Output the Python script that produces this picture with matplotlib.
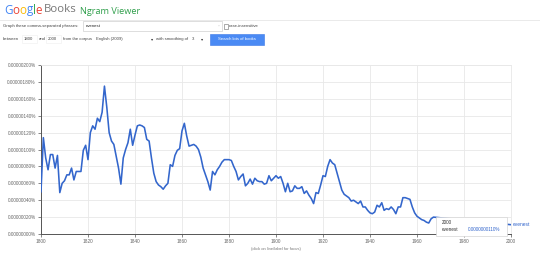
import matplotlib
matplotlib.use("Agg")
import matplotlib.pyplot as plt
from matplotlib.patches import Rectangle
from matplotlib.ticker import FuncFormatter

# ---------------- data ----------------
phrase = "evenest"
years = list(range(1800, 1968)) + [2000]
values = [  # share in units of 1e-8 %
    50, 114, 90, 76, 94, 94, 78, 93, 49, 60,            # 1800-1809
    63, 70, 70, 78, 64, 74, 74, 74, 99, 105,            # 1810-1819
    88, 120, 128, 124, 137, 133, 144, 175, 150, 120,    # 1820-1829
    110, 106, 92, 78, 59, 90, 100, 108, 124, 105,       # 1830-1839
    117, 128, 129, 128, 126, 112, 110, 90, 72, 62,      # 1840-1849
    58, 56, 53, 57, 60, 82, 80, 93, 99, 101,            # 1850-1859
    122, 131, 116, 104, 105, 106, 104, 100, 91, 78,     # 1860-1869
    70, 62, 52, 74, 70, 76, 80, 85, 88, 88,             # 1870-1879
    88, 87, 80, 74, 64, 68, 71, 57, 60, 65,             # 1880-1889
    59, 66, 63, 62, 62, 59, 60, 69, 63, 66,             # 1890-1899
    69, 66, 68, 60, 50, 60, 50, 51, 57, 54,             # 1900-1909
    54, 56, 48, 51, 46, 42, 36, 49, 48, 58,             # 1910-1919
    69, 68, 80, 88, 84, 82, 72, 62, 52, 47,             # 1920-1929
    45, 43, 39, 40, 38, 36, 39, 32, 32, 28,             # 1930-1939
    25, 24, 26, 34, 32, 37, 28, 30, 29, 32,             # 1940-1949
    29, 24, 32, 32, 43, 43, 42, 41, 32, 25,             # 1950-1959
    21, 19, 17, 16, 14, 13, 18, 20,                     # 1960-1967
    11,                                                 # 2000
]
x_ticks = [1800, 1820, 1840, 1860, 1880, 1900, 1920, 1940, 1960, 1980, 2000]
y_ticks = [0, 20, 40, 60, 80, 100, 120, 140, 160, 180, 200]
tooltip_year = "2000"
tooltip_value = "0.0000000110%"
year_start, year_end = "1800", "2000"
corpus = "English (2009)"
smoothing = "3"

# ---------------- figure ----------------
W, H = 540, 258
plt.rcParams["font.family"] = ["Liberation Sans", "DejaVu Sans"]
fig = plt.figure(figsize=(W / 100, H / 100), dpi=100)
fig.patch.set_facecolor("white")


def P(x, y):
    return x / W, 1 - y / H


renderer = fig.canvas.get_renderer()


def text_width(s, size, family):
    t = fig.text(0, 0, s, fontsize=size, family=family)
    w = t.get_window_extent(renderer=renderer).width
    t.remove()
    return w


def coloured_word(x, y, letters, colours, size, family="Open Sans"):
    """Draw a word letter by letter, each right-aligned at the prefix width."""
    for i, (ch, c) in enumerate(zip(letters, colours)):
        right = x + text_width(letters[: i + 1], size, family)
        fig.text(*P(right, y), ch, color=c, fontsize=size, family=family,
                 va="center", ha="right")
    return x + text_width(letters, size, family)


# header
end = coloured_word(4, 10, "Google",
                    ["#4285F4", "#EA4335", "#FBBC05", "#4285F4", "#34A853", "#EA4335"], 8.4)
fig.text(*P(end + 2, 10), "Books", color="#777777", fontsize=8.2, family="Open Sans",
         va="center")
fig.text(*P(80, 11), "Ngram Viewer", color="#2e9e4a", fontsize=6.6, family="Open Sans",
         va="center")
fig.add_artist(plt.Line2D([0, 1], [1 - 19.5 / H] * 2, color="#e6e6e6", lw=0.6))

small = 3.1
grey_t = "#444444"
box_ec = "#d0d0d0"
fig.text(*P(3, 26), "Graph these comma-separated phrases:", fontsize=small,
         color=grey_t, va="center")
fig.add_artist(Rectangle(P(83, 31), 139 / W, 10 / H, fc="white", ec=box_ec, lw=0.5))
fig.text(*P(86, 26), phrase, fontsize=small, color="#222222", va="center")
fig.text(*P(218, 26), "÷", fontsize=2.5, color="#aaaaaa", va="center")
fig.add_artist(Rectangle(P(224, 28.5), 4 / W, 4 / H, fc="white", ec="#888888", lw=0.5))
fig.text(*P(229, 26), "case-insensitive", fontsize=small, color=grey_t, va="center")

row = 39
fig.text(*P(3, row), "between", fontsize=small, color=grey_t, va="center")
fig.add_artist(Rectangle(P(22, 43), 15 / W, 8 / H, fc="white", ec="#eeeeee", lw=0.4))
fig.text(*P(24, row), year_start, fontsize=small, color=grey_t, va="center")
fig.text(*P(38.5, row), "and", fontsize=small, color=grey_t, va="center")
fig.add_artist(Rectangle(P(46, 43), 15 / W, 8 / H, fc="white", ec="#eeeeee", lw=0.4))
fig.text(*P(48, row), year_end, fontsize=small, color=grey_t, va="center")
fig.text(*P(63, row), "from the corpus", fontsize=small, color=grey_t, va="center")
fig.text(*P(96, row), corpus, fontsize=small, color=grey_t, va="center")
fig.text(*P(151, row), "▾", fontsize=small, color="#333333", va="center",
         family="DejaVu Sans")
fig.text(*P(156, row), "with smoothing of", fontsize=small, color=grey_t, va="center")
fig.text(*P(192, row), smoothing, fontsize=small, color=grey_t, va="center")
fig.text(*P(201, row), "▾", fontsize=small, color="#333333", va="center",
         family="DejaVu Sans")
fig.add_artist(Rectangle(P(210, 44.5), 54 / W, 11 / H, fc="#4a8af4", ec="#3b78e7", lw=0.4))
fig.text(*P(237, row), "Search lots of books", fontsize=small, color="white",
         va="center", ha="center")

# ---------------- chart ----------------
x0, x1, ytop, ybot = 41, 511, 65, 234
ax = fig.add_axes([x0 / W, 1 - ybot / H, (x1 - x0) / W, (ybot - ytop) / H])
ax.plot(years, values, color="#3366cc", lw=1.15, solid_joinstyle="round", zorder=3)
ax.set_xlim(1800, 2000)
ax.set_ylim(0, 200)
ax.set_xticks(x_ticks)
ax.set_yticks(y_ticks)
ax.yaxis.set_major_formatter(FuncFormatter(lambda v, p: f"{v * 1e-8:.8f}%"))
ax.grid(True, color="#e8e8e8", lw=0.6, zorder=0)
ax.tick_params(labelsize=3.4, colors="#555555", length=2.5, width=0.5, pad=1.2,
               labelcolor="#666666")
for s in ("top", "right"):
    ax.spines[s].set_color("#e8e8e8")
    ax.spines[s].set_linewidth(0.6)
for s in ("left", "bottom"):
    ax.spines[s].set_color("#555555")
    ax.spines[s].set_linewidth(0.7)

# tooltip
fig.add_artist(Rectangle(P(436, 236), 71 / W, 19 / H, fc="white", ec="#d5d5d5",
                         lw=0.5, zorder=5))
fig.text(*P(442, 222), tooltip_year, fontsize=3.3, color="#333333", va="center", zorder=6)
fig.text(*P(442, 229.5), phrase, fontsize=3.3, color="#333333", va="center", zorder=6)
fig.text(*P(468, 229.5), tooltip_value, fontsize=3.3, color="#3366cc", va="center", zorder=6)
fig.text(*P(513, 225), phrase, fontsize=3.5, color="#3366cc", va="center")

fig.text(*P(276, 249), "(click on line/label for focus)", fontsize=3.0,
         color="#777777", va="center", ha="center")

fig.savefig("out.png", dpi=100)
